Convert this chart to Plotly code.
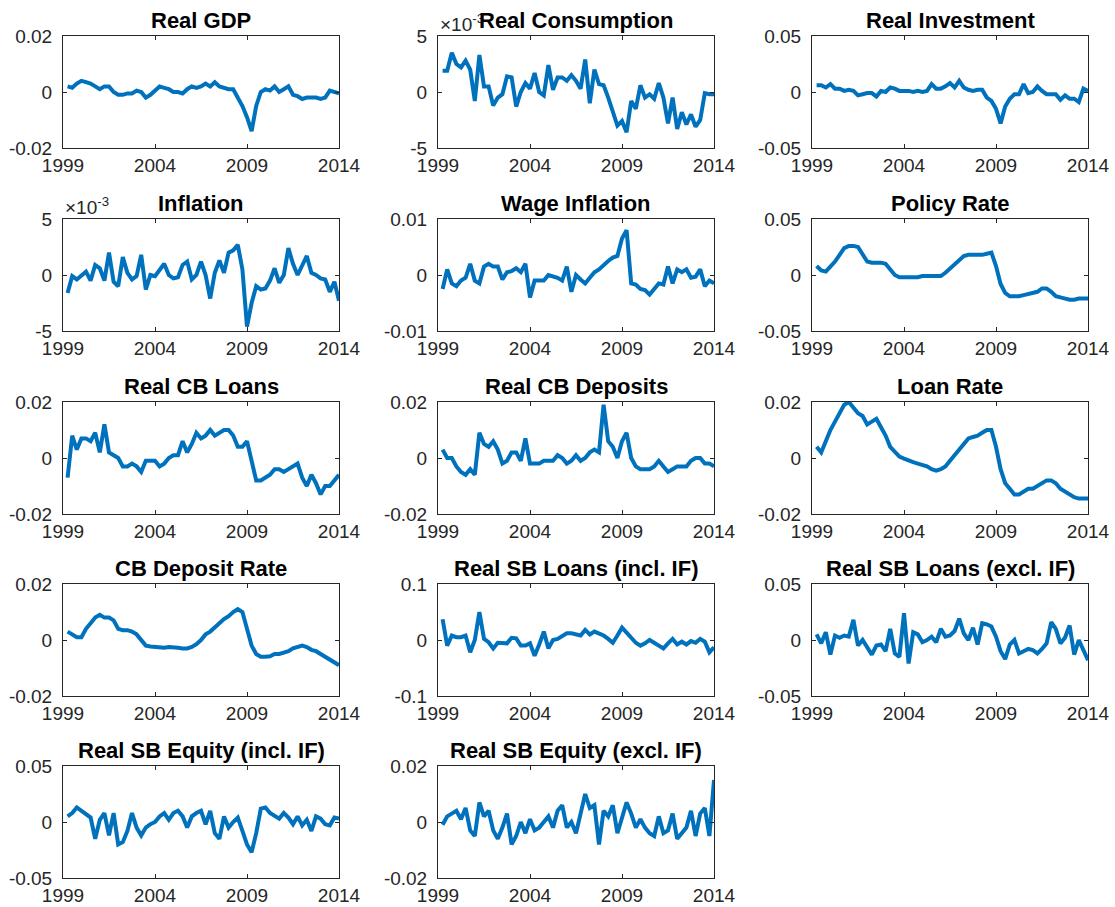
import plotly.graph_objects as go

# Quarterly observation dates (decimal years), 1999Q2 .. 2014Q1
quarters = [1999.25 + 0.25 * i for i in range(60)]

titles = ["Real GDP", "Real Consumption", "Real Investment",
          "Inflation", "Wage Inflation", "Policy Rate",
          "Real CB Loans", "Real CB Deposits", "Loan Rate",
          "CB Deposit Rate", "Real SB Loans (incl. IF)", "Real SB Loans (excl. IF)",
          "Real SB Equity (incl. IF)", "Real SB Equity (excl. IF)"]

x_tick_vals = [1999, 2004, 2009, 2014]
x_tick_text = ["1999", "2004", "2009", "2014"]

real_gdp = [0.002, 0.0015, 0.003, 0.004,
            0.0035, 0.003, 0.002, 0.001,
            0.002, 0.002, 0.0, -0.001,
            -0.001, -0.0005, -0.0005, 0.0005,
            0.0, -0.002, -0.001, 0.0005,
            0.002, 0.0015, 0.001, 0.0,
            0.0, -0.0005, 0.001, 0.002,
            0.0015, 0.002, 0.003, 0.002,
            0.0035, 0.002, 0.0015, 0.001,
            0.001, -0.002, -0.005, -0.009,
            -0.014, -0.005, 0.0, 0.001,
            0.0005, 0.002, 0.0, 0.001,
            0.002, -0.001, -0.0015, -0.0025,
            -0.002, -0.002, -0.002, -0.0025,
            -0.002, 0.0005, 0.0, -0.0005]

# shown in units of 1e-3
real_consumption = [1.9, 1.9, 3.5, 2.5,
                    2.2, 2.8, 2.0, -0.8,
                    3.3, 0.5, 0.5, -1.2,
                    -0.5, -0.2, 1.4, 1.3,
                    -1.3, 0.0, 0.8, 0.3,
                    1.7, 0.0, -0.3, 2.4,
                    0.2, 1.3, 1.3, 1.0,
                    1.5, 1.0, 0.3, 2.9,
                    -1.0, 2.0, 0.7, 0.6,
                    -0.5, -1.8, -3.0, -2.6,
                    -3.6, -0.8, -1.5, 0.6,
                    -0.5, -0.2, -0.6, 0.8,
                    -0.5, -2.8, -0.5, -3.3,
                    -1.8, -2.9, -2.0, -3.1,
                    -2.5, -0.1, -0.2, -0.2]

real_investment = [0.006, 0.006, 0.004, 0.007,
                   0.003, 0.003, 0.001, 0.002,
                   0.001, -0.003, -0.002, -0.001,
                   -0.001, -0.004, 0.001, 0.0,
                   0.004, 0.003, 0.001, 0.001,
                   0.001, 0.0, 0.001, 0.0,
                   0.001, 0.007, 0.003, 0.003,
                   0.005, 0.008, 0.004, 0.010,
                   0.004, 0.002, 0.001, 0.002,
                   0.002, -0.005, -0.008, -0.015,
                   -0.028, -0.013, -0.006, -0.002,
                   -0.002, 0.007, -0.001, 0.0,
                   0.005, 0.001, -0.002, -0.002,
                   -0.002, -0.007, -0.003, -0.006,
                   -0.006, -0.009, 0.003, 0.001]

# shown in units of 1e-3
inflation = [-1.6, -0.1, -0.4, 0.0,
             0.3, -0.5, 0.9, 0.6,
             -0.5, 2.0, -0.6, -1.0,
             1.6, 0.2, -0.4, -0.1,
             1.8, -1.3, 0.0, -0.1,
             0.4, 1.0, 0.0, -0.3,
             -0.2, 0.9, 1.2, -0.4,
             0.0, 1.2, 0.0, -2.1,
             0.2, 1.3, 0.2, 2.0,
             2.2, 2.7, 0.5, -4.6,
             -2.5, -1.0, -1.3, -1.2,
             -0.5, 0.6, -0.7, 0.0,
             2.4, 1.0, 0.0, 0.8,
             1.7, 0.2, 0.0, -0.3,
             -0.4, -1.5, -0.6, -2.3]

wage_inflation = [-0.0025, 0.001, -0.0015, -0.002,
                  -0.001, -0.0005, 0.002, -0.001,
                  -0.0015, 0.0015, 0.002, 0.0015,
                  0.0015, -0.0008, 0.0005, 0.0007,
                  0.0012, 0.0005, 0.002, -0.004,
                  -0.001, -0.001, -0.001, 0.0,
                  -0.0003, -0.0005, -0.001, 0.0015,
                  -0.003, 0.0, -0.0008, -0.0015,
                  -0.0005, 0.0005, 0.001, 0.0018,
                  0.0025, 0.0031, 0.0034, 0.0065,
                  0.008, -0.0015, -0.0017, -0.0025,
                  -0.0027, -0.0035, -0.0025, -0.0015,
                  -0.0017, 0.0015, -0.0015, 0.001,
                  0.0005, 0.001, -0.0005, -0.0003,
                  0.001, -0.002, -0.001, -0.0015]

policy_rate = [0.008, 0.004, 0.003, 0.007,
               0.012, 0.018, 0.024, 0.026,
               0.026, 0.025, 0.018, 0.012,
               0.011, 0.011, 0.011, 0.010,
               0.005, 0.0, -0.002, -0.002,
               -0.002, -0.002, -0.002, -0.001,
               -0.001, -0.001, -0.001, -0.001,
               0.002, 0.006, 0.010, 0.014,
               0.017, 0.018, 0.018, 0.018,
               0.018, 0.019, 0.020, 0.008,
               -0.008, -0.016, -0.019, -0.019,
               -0.019, -0.018, -0.017, -0.016,
               -0.015, -0.012, -0.012, -0.015,
               -0.019, -0.020, -0.021, -0.022,
               -0.022, -0.021, -0.021, -0.021]

real_cb_loans = [-0.007, 0.008, 0.003, 0.007,
                 0.007, 0.006, 0.009, 0.002,
                 0.012, 0.002, 0.001, 0.0,
                 -0.003, -0.003, -0.002, -0.003,
                 -0.005, -0.001, -0.001, -0.001,
                 -0.003, -0.002, 0.0, 0.001,
                 0.001, 0.006, 0.002, 0.005,
                 0.009, 0.007, 0.008, 0.010,
                 0.008, 0.009, 0.010, 0.010,
                 0.008, 0.004, 0.004, 0.006,
                 -0.001, -0.008, -0.008, -0.007,
                 -0.006, -0.004, -0.004, -0.005,
                 -0.004, -0.003, -0.002, -0.007,
                 -0.010, -0.006, -0.009, -0.013,
                 -0.010, -0.010, -0.008, -0.006]

real_cb_deposits = [0.003, 0.0, 0.0, -0.003,
                    -0.005, -0.006, -0.004, -0.006,
                    0.009, 0.005, 0.004, 0.006,
                    0.003, -0.002, -0.001, 0.002,
                    0.002, -0.001, 0.007, -0.002,
                    -0.002, -0.002, -0.001, -0.001,
                    -0.001, 0.001, 0.0, -0.002,
                    -0.001, 0.001, -0.001, 0.0,
                    0.002, 0.003, 0.002, 0.019,
                    0.006, 0.004, 0.0, 0.006,
                    0.009, 0.0, -0.003, -0.004,
                    -0.004, -0.004, -0.003, -0.001,
                    -0.003, -0.005, -0.004, -0.003,
                    -0.003, -0.003, -0.001, 0.0,
                    0.0, -0.002, -0.002, -0.003]

loan_rate = [0.004, 0.002, 0.006, 0.010,
             0.013, 0.016, 0.019, 0.020,
             0.018, 0.016, 0.015, 0.012,
             0.013, 0.014, 0.011, 0.008,
             0.004, 0.002, 0.0005, -0.0002,
             -0.001, -0.0015, -0.002, -0.0025,
             -0.003, -0.004, -0.0045, -0.004,
             -0.003, -0.001, 0.001, 0.003,
             0.005, 0.007, 0.0075, 0.008,
             0.009, 0.010, 0.010, 0.004,
             -0.004, -0.009, -0.011, -0.013,
             -0.013, -0.012, -0.011, -0.011,
             -0.010, -0.009, -0.008, -0.008,
             -0.009, -0.011, -0.012, -0.013,
             -0.014, -0.0145, -0.0145, -0.0145]

cb_deposit_rate = [0.003, 0.002, 0.001, 0.001,
                   0.004, 0.006, 0.008, 0.009,
                   0.008, 0.008, 0.007, 0.004,
                   0.0035, 0.0035, 0.003, 0.002,
                   0.0, -0.002, -0.0023, -0.0025,
                   -0.0028, -0.0028, -0.0025, -0.0028,
                   -0.0028, -0.003, -0.003, -0.0025,
                   -0.0015, 0.0, 0.002, 0.003,
                   0.0045, 0.006, 0.0075, 0.0085,
                   0.010, 0.011, 0.010, 0.004,
                   -0.002, -0.005, -0.006, -0.006,
                   -0.0058, -0.005, -0.005, -0.0045,
                   -0.004, -0.003, -0.0025, -0.002,
                   -0.0025, -0.0035, -0.004, -0.005,
                   -0.006, -0.007, -0.008, -0.009]

sb_loans_incl = [0.037, -0.010, 0.008, 0.005,
                 0.005, 0.008, -0.022, 0.0,
                 0.050, 0.002, -0.004, -0.015,
                 -0.005, -0.006, -0.006, 0.004,
                 0.003, -0.010, -0.010, -0.006,
                 -0.028, -0.008, 0.015, -0.015,
                 0.0, 0.002, 0.008, 0.012,
                 0.012, 0.010, 0.008, 0.018,
                 0.010, 0.015, 0.012, 0.008,
                 0.002, -0.005, 0.008, 0.022,
                 0.013, 0.004, -0.005, -0.010,
                 -0.006, 0.0, -0.005, -0.010,
                 -0.015, -0.006, 0.002, -0.008,
                 -0.003, -0.008, -0.002, -0.005,
                 0.002, -0.003, -0.022, -0.013]

sb_loans_excl = [0.005, -0.003, 0.007, -0.013,
                 0.004, 0.002, 0.004, 0.003,
                 0.018, -0.005, 0.0, -0.007,
                 -0.013, -0.005, -0.004, -0.010,
                 0.010, -0.012, -0.015, 0.024,
                 -0.021, 0.007, 0.005, -0.002,
                 0.0, 0.003, -0.002, 0.010,
                 0.003, 0.004, 0.008, 0.019,
                 0.006, 0.0, 0.011, -0.004,
                 0.015, 0.014, 0.012, 0.003,
                 -0.010, -0.017, -0.004, 0.0,
                 -0.012, -0.010, -0.008, -0.009,
                 -0.012, -0.008, -0.003, 0.016,
                 0.010, -0.003, 0.002, 0.013,
                 -0.013, 0.0, -0.010, -0.018]

sb_equity_incl = [0.005, 0.008, 0.013, 0.010,
                  0.008, 0.004, -0.015, 0.002,
                  0.008, -0.012, 0.008, -0.020,
                  -0.018, -0.008, 0.008, -0.005,
                  -0.012, -0.005, -0.002, 0.0,
                  0.005, 0.008, 0.002, 0.008,
                  0.010, 0.005, -0.005, 0.005,
                  0.008, 0.010, -0.002, 0.010,
                  -0.010, -0.015, 0.005, -0.005,
                  0.0, 0.004, -0.008, -0.020,
                  -0.027, -0.010, 0.012, 0.013,
                  0.008, 0.005, 0.003, 0.008,
                  0.004, -0.002, 0.005, -0.003,
                  0.002, -0.008, 0.005, 0.003,
                  -0.002, -0.003, 0.004, 0.003]

sb_equity_excl = [-0.001, 0.002, 0.003, 0.004,
                  0.001, 0.005, -0.003, -0.005,
                  0.007, 0.002, 0.004, -0.003,
                  -0.006, -0.002, 0.003, -0.008,
                  -0.005, 0.0, -0.004, 0.001,
                  -0.003, -0.002, 0.0, 0.002,
                  -0.002, 0.004, 0.006, -0.002,
                  0.0, -0.004, 0.003, 0.010,
                  0.005, 0.006, -0.008, 0.004,
                  0.002, 0.006, -0.004, 0.001,
                  0.007, 0.003, -0.002, 0.001,
                  -0.002, -0.004, -0.005, 0.002,
                  -0.004, -0.003, 0.003, -0.006,
                  -0.004, -0.002, 0.004, -0.005,
                  0.003, 0.005, -0.005, 0.015]

series = [real_gdp, real_consumption, real_investment,
          inflation, wage_inflation, policy_rate,
          real_cb_loans, real_cb_deposits, loan_rate,
          cb_deposit_rate, sb_loans_incl, sb_loans_excl,
          sb_equity_incl, sb_equity_excl]

y_limits = [0.02, 5, 0.05,
            5, 0.01, 0.05,
            0.02, 0.02, 0.02,
            0.02, 0.1, 0.05,
            0.05, 0.02]
y_tick_labels = [["-0.02", "0", "0.02"], ["-5", "0", "5"], ["-0.05", "0", "0.05"],
                 ["-5", "0", "5"], ["-0.01", "0", "0.01"], ["-0.05", "0", "0.05"],
                 ["-0.02", "0", "0.02"], ["-0.02", "0", "0.02"], ["-0.02", "0", "0.02"],
                 ["-0.02", "0", "0.02"], ["-0.1", "0", "0.1"], ["-0.05", "0", "0.05"],
                 ["-0.05", "0", "0.05"], ["-0.02", "0", "0.02"]]
exponent_panels = [1, 3]

# ---------------- layout (pixels) ----------------
W, H = 1115, 907
col_left = [63, 438, 812]
col_w = 276
row_top = [36, 219, 402, 584, 766]
row_h = 112

LINE_COLOR = "#0072BD"
AX_COLOR = "#262626"
FONT = "Liberation Sans, Arial, Helvetica, sans-serif"

fig = go.Figure()
annotations = []
layout_axes = {}

for k, (title, ys) in enumerate(zip(titles, series)):
    r, c = divmod(k, 3)
    n = k + 1
    xa = "x" if n == 1 else f"x{n}"
    ya = "y" if n == 1 else f"y{n}"
    xkey = "xaxis" if n == 1 else f"xaxis{n}"
    ykey = "yaxis" if n == 1 else f"yaxis{n}"
    x0 = col_left[c] / W
    x1 = (col_left[c] + col_w) / W
    y1 = 1 - row_top[r] / H
    y0 = 1 - (row_top[r] + row_h) / H

    fig.add_trace(go.Scatter(x=quarters, y=ys, mode="lines",
                             line=dict(color=LINE_COLOR, width=4),
                             xaxis=xa, yaxis=ya, showlegend=False,
                             hoverinfo="skip"))
    lim = y_limits[k]
    common = dict(showline=True, linecolor=AX_COLOR, linewidth=1,
                  mirror="ticks", ticks="inside", ticklen=4, tickwidth=1,
                  tickcolor=AX_COLOR, showgrid=False, zeroline=False,
                  automargin=False,
                  tickfont=dict(family=FONT, size=19, color=AX_COLOR),
                  fixedrange=True)
    layout_axes[xkey] = dict(domain=[x0, x1], range=[1999, 2014],
                             tickvals=x_tick_vals, ticktext=x_tick_text,
                             anchor=ya, **common)
    layout_axes[ykey] = dict(domain=[y0, y1], range=[-lim, lim],
                             tickvals=[-lim, 0, lim], ticktext=y_tick_labels[k],
                             anchor=xa, ticklabelstandoff=6, **common)
    if k in exponent_panels:
        annotations.append(dict(x=x0, y=y1, xref="paper", yref="paper",
                                xanchor="left", yanchor="bottom", yshift=-1,
                                text="\u00d710<sup>-3</sup>", showarrow=False,
                                font=dict(family=FONT, size=19, color=AX_COLOR)))
    annotations.append(dict(x=(x0 + x1) / 2, y=y1, xref="paper", yref="paper",
                            xanchor="center", yanchor="bottom", yshift=1,
                            text=f"<b>{title}</b>", showarrow=False,
                            font=dict(family=FONT, size=22, color="black")))

fig.update_layout(template="none", width=W, height=H,
                  margin=dict(l=0, r=0, t=0, b=0, autoexpand=False),
                  paper_bgcolor="white", plot_bgcolor="white",
                  annotations=annotations, **layout_axes)

fig.write_html("out.html",
               config={"displayModeBar": False, "staticPlot": False},
               post_script="document.body.style.margin='0px';"
                           "document.body.style.padding='0px';"
                           "document.body.style.overflow='hidden';")
